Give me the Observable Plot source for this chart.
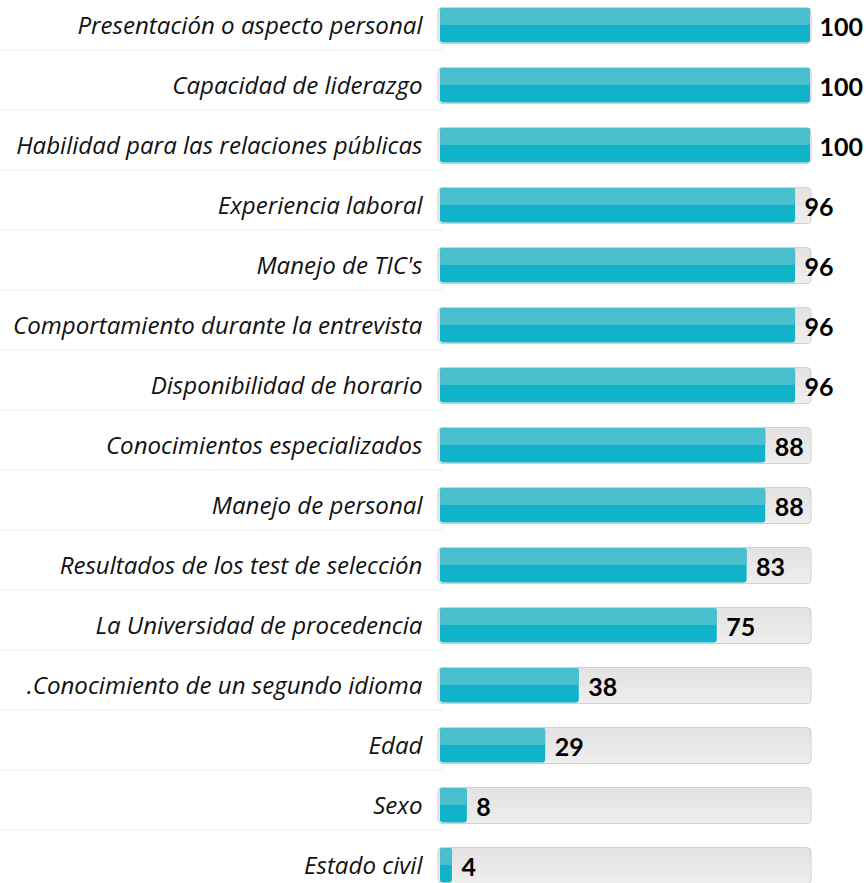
<!DOCTYPE html>
<html>
<head>
<meta charset="utf-8">
<script src="https://cdn.jsdelivr.net/npm/d3@7"></script>
<script src="https://cdn.jsdelivr.net/npm/@observablehq/plot@0.6"></script>
<style>
  html, body { margin: 0; padding: 0; background: #fff; }
  #chart svg { display: block; overflow: visible; }
</style>
</head>
<body>
<div id="chart"></div>
<script>
const categories = [
  "Presentación o aspecto personal",
  "Capacidad de liderazgo",
  "Habilidad para las relaciones públicas",
  "Experiencia laboral",
  "Manejo de TIC's",
  "Comportamiento durante la entrevista",
  "Disponibilidad de horario",
  "Conocimientos especializados",
  "Manejo de personal",
  "Resultados de los test de selección",
  "La Universidad de procedencia",
  ".Conocimiento de un segundo idioma",
  "Edad",
  "Sexo",
  "Estado civil"
];
const values = [100, 100, 100, 96, 96, 96, 96, 88, 88, 83, 75, 38, 29, 8, 4];
const scaleMax = 100;

const data = categories.map((name, i) => ({name, value: values[i]}));

const defs = () => {
  const d = d3.create("svg:defs");
  const g = d.append("linearGradient").attr("id", "trackGrad")
    .attr("x1", 0).attr("x2", 0).attr("y1", 0).attr("y2", 1);
  g.append("stop").attr("offset", "0%").attr("stop-color", "#e3e1e2");
  g.append("stop").attr("offset", "100%").attr("stop-color", "#efefef");
  return d.node();
};

const chart = Plot.plot({
  width: 866,
  height: 883,
  marginLeft: 0,
  marginRight: 0,
  marginTop: 0,
  marginBottom: 0,
  x: {domain: [0, scaleMax], range: [438, 811], axis: null},
  y: {domain: categories, range: [6, 885.8], paddingInner: 0.385, paddingOuter: 0, axis: null},
  marks: [
    defs,
    Plot.ruleY(data.slice(1), {y: "name", dy: -36, insetRight: 423, stroke: "#ebebeb", strokeWidth: 1}),
    Plot.barX(data, {y: "name", x1: 0, x2: scaleMax, fill: "url(#trackGrad)", stroke: "#d0d0d0", strokeWidth: 1, rx: 4, insetTop: 0.5, insetBottom: 0.5}),
    Plot.barX(data, {y: "name", x1: 0, x2: "value", fill: "#10b3ca", rx: 3, insetLeft: 2, insetRight: 1, insetTop: 1, insetBottom: 1.5}),
    Plot.barX(data, {y: "name", x1: 0, x2: "value", fill: "#4abfce", rx: 2, insetLeft: 2, insetRight: 1, insetTop: 1, insetBottom: 19}),
    Plot.text(data, {y: "name", x: 0, text: "name", textAnchor: "end", dx: -16, dy: 0, fontSize: 24.1, fontStyle: "italic", fontFamily: "'Open Sans', sans-serif", fill: "#111"}),
    Plot.text(data, {y: "name", x: "value", text: d => String(d.value), textAnchor: "start", dx: 8, dy: 2, fontSize: 25, fontWeight: "bold", fontFamily: "Lato, sans-serif", fill: "#000"})
  ]
});
document.getElementById("chart").appendChild(chart);
</script>
</body>
</html>
